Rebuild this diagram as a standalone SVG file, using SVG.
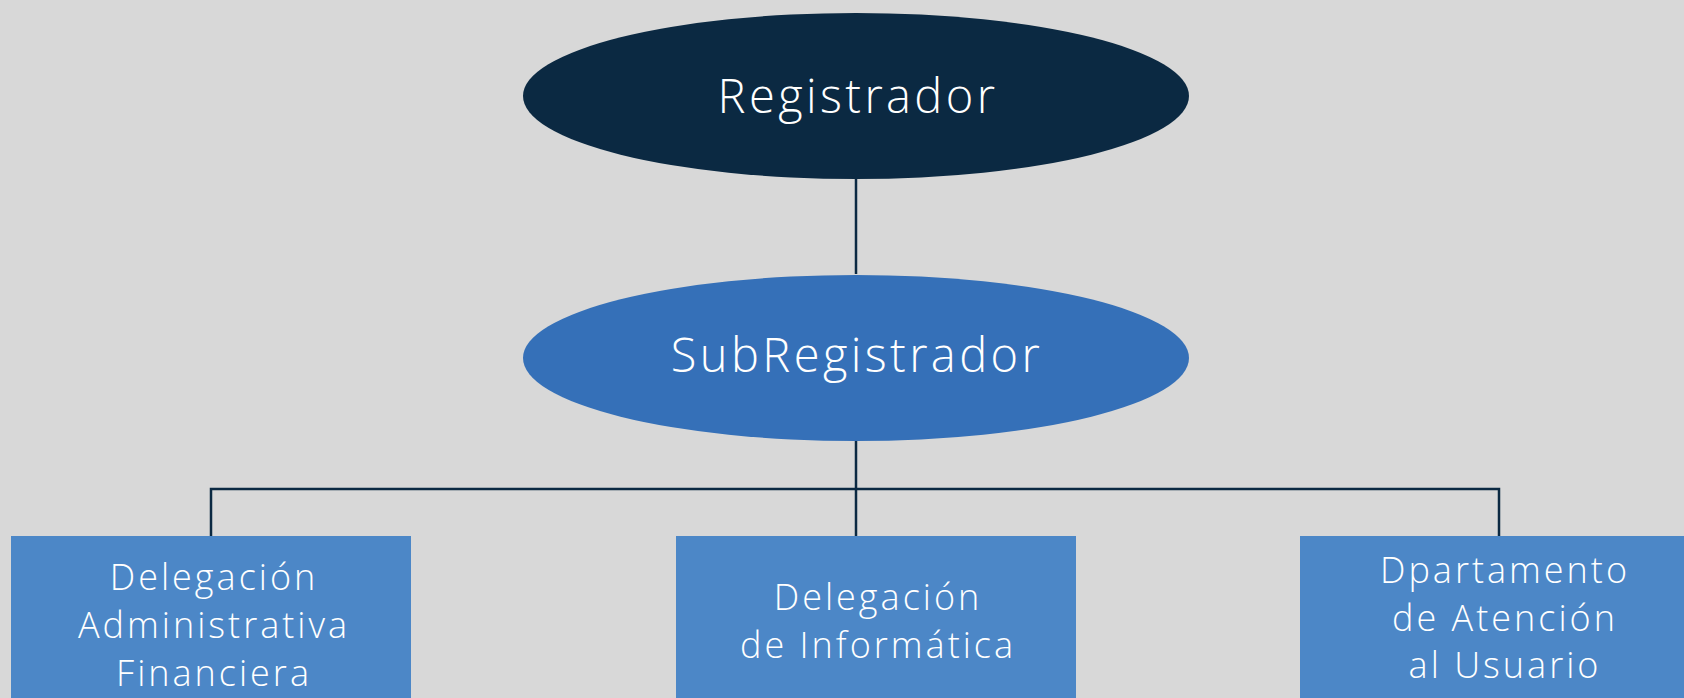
<svg xmlns="http://www.w3.org/2000/svg" width="1684" height="698" viewBox="0 0 1684 698">
<style>
.t{font-family:"Open Sans","Noto Sans","Liberation Sans",sans-serif;font-weight:300;fill:#ffffff;text-anchor:middle}
.big{font-size:47px;letter-spacing:3.4px}
.sm{font-size:36px;letter-spacing:3px}
.ln{stroke:#0b2942;stroke-width:2.5;fill:none}
.box{fill:#4c87c7}
</style>
<rect width="1684" height="698" fill="#d8d8d8"/>
<g id="connectors">
<path class="ln" d="M856 179V274"/>
<path class="ln" d="M856 441V536"/>
<path class="ln" d="M211 536V489H1499V536"/>
</g>
<g id="registrador">
<ellipse cx="856" cy="96" rx="333" ry="83" fill="#0b2942"/>
<text class="t big" x="858" y="113">Registrador</text>
</g>
<g id="subregistrador">
<ellipse cx="856" cy="358" rx="333" ry="83" fill="#3570b8"/>
<text class="t big" x="857" y="372">SubRegistrador</text>
</g>
<g id="delegacion-admin">
<rect class="box" x="11" y="536" width="400" height="170"/>
<text class="t sm"><tspan x="214" y="590">Delegación</tspan><tspan x="214" y="638">Administrativa</tspan><tspan x="214" y="686">Financiera</tspan></text>
</g>
<g id="delegacion-info">
<rect class="box" x="676" y="536" width="400" height="170"/>
<text class="t sm"><tspan x="878" y="610">Delegación</tspan><tspan x="878" y="658">de Informática</tspan></text>
</g>
<g id="departamento">
<rect class="box" x="1300" y="536" width="400" height="170"/>
<text class="t sm"><tspan x="1505" y="583">Dpartamento</tspan><tspan x="1505" y="631">de Atención</tspan><tspan x="1505" y="678">al Usuario</tspan></text>
</g>
</svg>
